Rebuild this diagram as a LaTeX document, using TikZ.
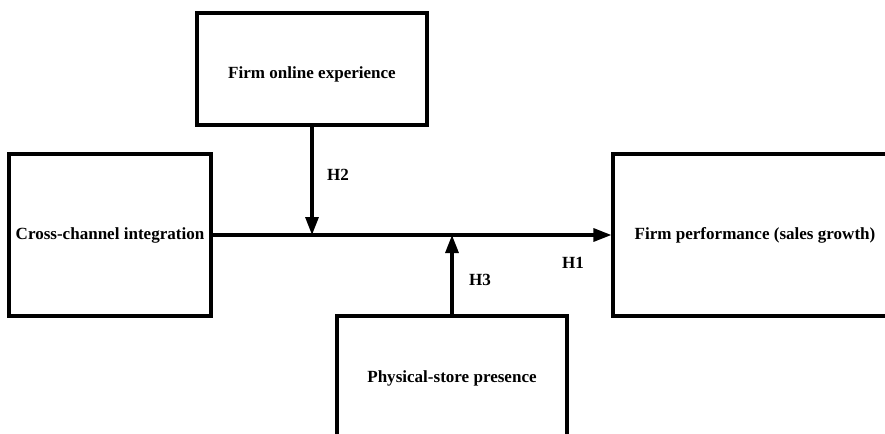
\documentclass[tikz,border=0pt]{standalone}
\usepackage{fontspec}
\setmainfont{Liberation Serif}
\usetikzlibrary{arrows.meta, positioning}

\begin{document}
\begin{tikzpicture}[
  block/.style={draw, line width=1.8pt, font=\bfseries\fontsize{9.7}{11}\selectfont},
  link/.style={line width=1.8pt, -{Triangle[length=3.6mm,width=2.6mm]}},
  hyp/.style={font=\bfseries\fontsize{9.7}{11}\selectfont}
]
% The frame
\clip (0,0) rectangle (17.7,-8.66);

% The boxes
\node [block, minimum width=4.04cm, minimum height=3.24cm] (integration) at (2.2,-4.7) {Cross-channel integration};
\node [block, minimum width=4.6cm, minimum height=2.24cm, text height=0.46cm] (online) at (6.24,-1.38) {Firm online experience};
\node [block, minimum width=5.68cm, minimum height=3.24cm] (performance) at (15.1,-4.7) {Firm performance (sales growth)};
\node [block, minimum width=4.6cm, minimum height=2.5cm] (store) at (9.04,-7.57) {Physical-store presence};

% The paths
\draw [link] (integration.east) -- (performance.west);
\draw [link] (online.south) -- (online.south |- integration.east);
\draw [link] (store.north) -- (store.north |- integration.east);

% The hypotheses
\node [hyp] (h1) at (11.46,-5.26) {H1};
\node [hyp] (h2) at (6.76,-3.5) {H2};
\node [hyp] (h3) at (9.6,-5.6) {H3};
\end{tikzpicture}
\end{document}
